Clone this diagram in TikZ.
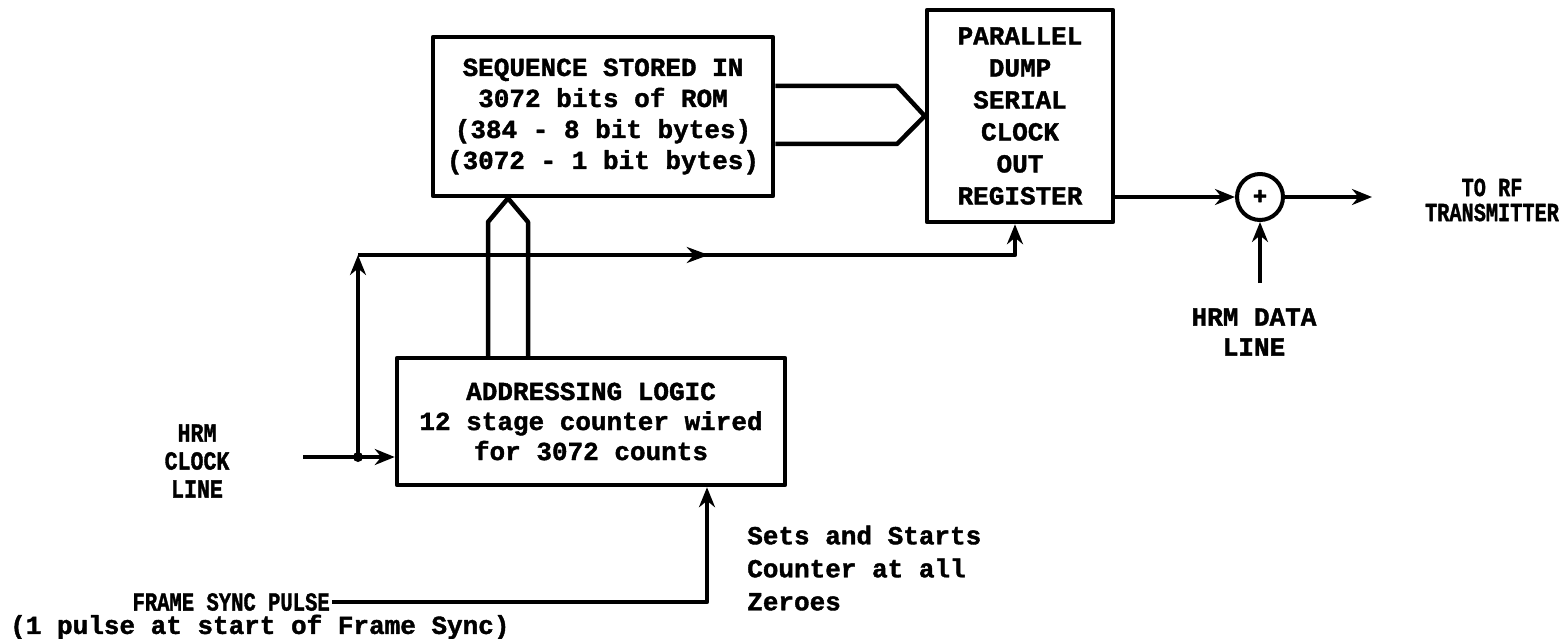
\documentclass[tikz,border=0pt]{standalone}
\usepackage{fontspec}
\newfontfamily\tw{Liberation Mono}[FakeBold=1.5]
\usetikzlibrary{arrows.meta,decorations.markings}
\begin{document}
\begin{tikzpicture}[x=1pt,y=-1pt,line width=4.5pt,line join=round,
  >={Stealth[length=20pt,width=16pt]},
  box/.style={draw,line width=4.5pt,inner sep=0pt},
  lbl/.style={font=\tw\bfseries\fontsize{26}{31}\selectfont,align=center,inner sep=0pt},
  mid arrow/.style={postaction={decorate},decoration={markings,
     mark=at position #1 with {\arrow{Stealth[length=22pt,width=16pt]}}}}]
\useasboundingbox (0,0) rectangle (1564,639);

% blocks
\node[box,lbl,minimum width=340pt,minimum height=159pt] (rom) at (603,116.5)
  {SEQUENCE STORED IN\\3072 bits of ROM\\(384 - 8 bit bytes)\\(3072 - 1 bit bytes)};
\node[box,lbl,font=\tw\bfseries\fontsize{26}{32}\selectfont,minimum width=186pt,minimum height=212pt] (reg) at (1020,116)
  {PARALLEL\\DUMP\\SERIAL\\CLOCK\\OUT\\REGISTER};
\node[box,lbl,font=\tw\bfseries\fontsize{26}{30}\selectfont,minimum width=388pt,minimum height=127pt] (addr) at (591,421.5)
  {ADDRESSING LOGIC\\12 stage counter wired\\for 3072 counts};
\node[draw,circle,minimum size=46pt,inner sep=0pt,line width=4pt,
  font=\tw\bfseries\fontsize{24}{24}\selectfont] (adder) at (1260,197) {+};

% labels
\node[lbl,font=\tw\bfseries\fontsize{26}{28}\selectfont] (hrmc) at (197,461)
  {\scalebox{0.83}[1]{HRM}\\\scalebox{0.83}[1]{CLOCK}\\\scalebox{0.83}[1]{LINE}};
\node[lbl,font=\tw\bfseries\fontsize{26}{30}\selectfont] (hrmd) at (1254,332) {HRM DATA\\LINE};
\node[lbl,font=\tw\bfseries\fontsize{26}{25}\selectfont] (torf) at (1492,200)
  {\scalebox{0.78}[1]{TO RF}\\\scalebox{0.78}[1]{TRANSMITTER}};
\node[lbl,anchor=east] (fsp) at (332,602)
  {\scalebox{0.79}[1]{FRAME SYNC PULSE}};
\node[lbl,anchor=west] (pulse) at (8,627) {(1 pulse at start of Frame Sync)};
\node[lbl,font=\tw\bfseries\fontsize{26}{33}\selectfont,anchor=west,align=left] (sets) at (745,568)
  {Sets and Starts\\Counter at all\\Zeroes};

% bus ROM -> register
\coordinate (bu) at (897,86);
\coordinate (bd) at (897,144);
\draw (rom.east |- bu) -- (bu) -- (reg.west) -- (bd) -- (rom.east |- bd);

% bus addressing -> ROM
\coordinate (al) at (488,222);
\coordinate (ar) at (528,222);
\coordinate (ap) at (508,0);
\draw (addr.north -| al) -- (al) -- (rom.south -| ap) -- (ar) -- (addr.north -| ar);

% clock
\coordinate (cin) at (303,457);
\coordinate (j) at (358,457);
\coordinate (c) at (358,255);
\coordinate (rin) at (1015,255);
\draw[->] (cin) -- (addr.west |- cin);
\fill (j) circle (5pt);
\draw[->] (j) -- (c);
\draw[mid arrow=0.51,->] (c) -- (rin) -- (reg.south -| rin);

% frame sync
\coordinate (fs) at (707,602);
\draw[->] (fsp.east) -- (fs) -- (addr.south -| fs);

% output
\coordinate (out) at (1372,197);
\coordinate (din) at (1260,283);
\draw[->] (reg.east |- adder) -- (adder.west);
\draw[->] (adder.east) -- (out);
\draw[->] (din) -- (adder.south);
\end{tikzpicture}
\end{document}
